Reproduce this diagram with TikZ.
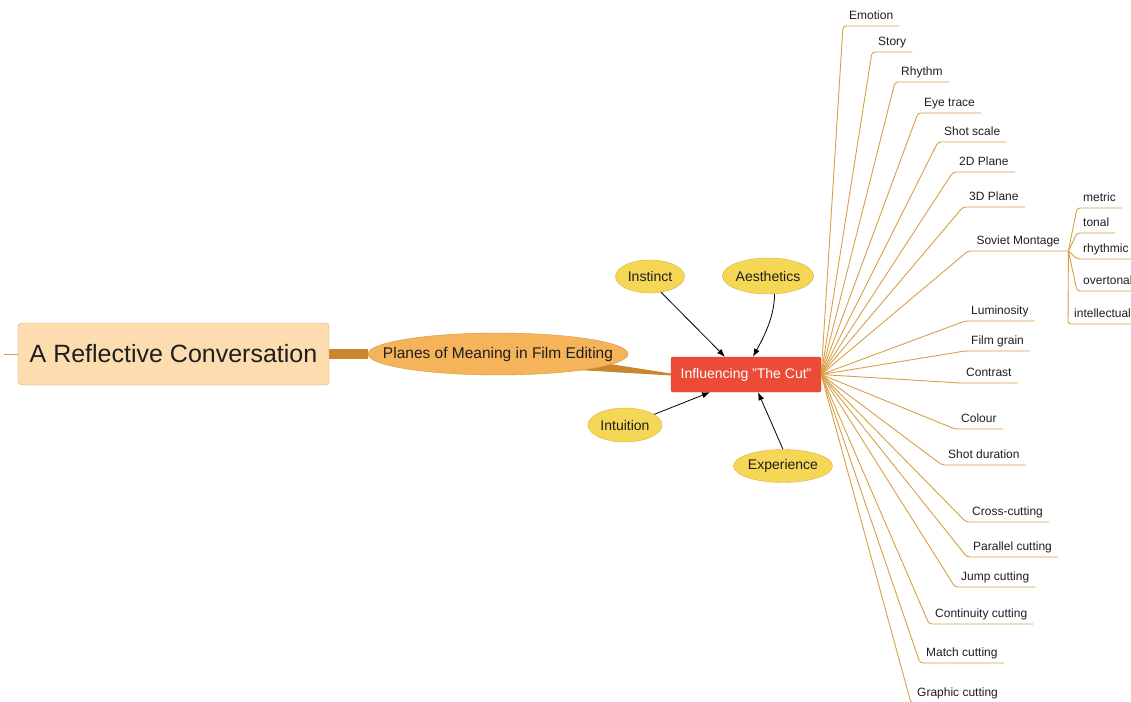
\documentclass[tikz,border=0pt]{standalone}
\usepackage{fontspec}
\setmainfont{Liberation Sans}
\usepackage{tikz}
\usetikzlibrary{arrows.meta,shapes.geometric,calc,backgrounds}
\usepackage{xcolor}
\definecolor{cRoot}{RGB}{253,221,176}
\definecolor{cRootLine}{RGB}{205,160,95}
\definecolor{cPlanes}{RGB}{245,180,90}
\definecolor{cPlanesLine}{RGB}{215,150,60}
\definecolor{cCut}{RGB}{236,75,55}
\definecolor{cCutLine}{RGB}{215,60,45}
\definecolor{cIdea}{RGB}{245,215,85}
\definecolor{cIdeaLine}{RGB}{215,180,60}
\definecolor{cTrunk}{RGB}{200,135,45}
\definecolor{cBranch}{RGB}{215,160,70}
\definecolor{cText}{RGB}{30,30,30}

\tikzset{
  root/.style={draw=cRootLine, fill=cRoot, rounded corners=4pt, minimum width=311pt,
    minimum height=62pt, text=cText, font=\fontsize{25}{30}\selectfont},
  planes/.style={ellipse, draw=cPlanesLine, fill=cPlanes, inner xsep=-24pt, inner ysep=0pt,
    minimum width=260pt, minimum height=42pt, text=cText, font=\fontsize{15.5}{18}\selectfont},
  cutbox/.style={draw=cCutLine, fill=cCut, rounded corners=2pt, minimum width=150pt,
    minimum height=35pt, text=white, font=\fontsize{14}{16}\selectfont},
  idea/.style={ellipse, draw=cIdeaLine, fill=cIdea, inner sep=0pt, text=cText,
    font=\fontsize{14}{16}\selectfont},
  leaf/.style={anchor=south west, inner xsep=6pt, inner ysep=6pt, text height=8.8pt,
    text depth=0pt, text=cText, font=\fontsize{12}{14}\selectfont},
  branch/.style={cBranch, line width=0.9pt, rounded corners=3pt},
  link/.style={-{Latex[length=8pt,width=6pt]}, line width=0.8pt, black},
}

\begin{document}
\begin{tikzpicture}[x=1pt, y=-1pt]
  \clip (0,0) rectangle (1131,701);
  % Main topics
  \node[root] (root) at (173.5,354) {A Reflective Conversation};
  \node[planes] (planes) at (498,354) {Planes of Meaning in Film Editing};
  \node[cutbox] (cut) at (746,374.5) {Influencing "The Cut"};
  \coordinate (stub) at (4,354);
  % Influences
  \node[idea, minimum width=69pt, minimum height=33pt] (instinct) at (650,276.5) {Instinct};
  \node[idea, minimum width=90pt, minimum height=36pt] (aesthetics) at (768,276) {Aesthetics};
  \node[idea, minimum width=74pt, minimum height=34pt] (intuition) at (625,425) {Intuition};
  \node[idea, minimum width=97pt, minimum height=33pt] (experience) at (783,466) {Experience};
  % Planes of meaning
  \node[leaf] (emotion) at (843,26) {Emotion};
  \node[leaf] (story) at (872,52) {Story};
  \node[leaf] (rhythm) at (895,82) {Rhythm};
  \node[leaf] (eyetrace) at (918,113) {Eye trace};
  \node[leaf] (shotscale) at (938,142) {Shot scale};
  \node[leaf] (plane2d) at (953,172) {2D Plane};
  \node[leaf] (plane3d) at (963,207) {3D Plane};
  \node[leaf, minimum width=100pt] (soviet) at (968,251) {Soviet Montage};
  \node[leaf] (luminosity) at (965,321) {Luminosity};
  \node[leaf] (filmgrain) at (965,351) {Film grain};
  \node[leaf] (contrast) at (960,383) {Contrast};
  \node[leaf] (colour) at (955,429) {Colour};
  \node[leaf] (shotdur) at (942,465) {Shot duration};
  \node[leaf] (crosscut) at (966,522) {Cross-cutting};
  \node[leaf] (parallel) at (967,557) {Parallel cutting};
  \node[leaf] (jumpcut) at (955,587) {Jump cutting};
  \node[leaf] (continuity) at (929,624) {Continuity cutting};
  \node[leaf] (matchcut) at (920,663) {Match cutting};
  \node[leaf] (graphic) at (911,703) {Graphic cutting};
  % Montage types
  \node[leaf] (metric) at (1077,208) {metric};
  \node[leaf] (tonal) at (1077,233) {tonal};
  \node[leaf] (rhythmic) at (1077,259) {rhythmic};
  \node[leaf] (overtonal) at (1077,291) {overtonal};
  \node[leaf] (intellectual) at (1068,324) {intellectual};

  % Trunk connectors
  \begin{scope}[on background layer]
    \draw[cRootLine, line width=0.8pt] (stub) -- (root.west);
    \draw[cTrunk, line width=10pt] (root.east) -- (planes.west);
    \fill[cTrunk] ($(planes.center)+(80,5)$) -- ($(planes.center)+(80,16)$)
      -- ([yshift=-1pt]cut.west) -- ([yshift=1pt]cut.west) -- cycle;
  \end{scope}

  % Arrows into the cut
  \draw[link] (instinct.-55) -- ([xshift=-21pt]cut.north);
  \draw[link] (aesthetics.-70) .. controls +(0,25) and +(8,-15) .. ([xshift=7pt]cut.north);
  \draw[link] (intuition.20) -- ([xshift=-36pt]cut.south);
  \draw[link] (experience.north) -- ([xshift=12pt]cut.south);

  % Fan of branches
  \draw[branch] (cut.east) -- (emotion.south west) -- (emotion.south east);
  \draw[branch] (cut.east) -- (story.south west) -- (story.south east);
  \draw[branch] (cut.east) -- (rhythm.south west) -- (rhythm.south east);
  \draw[branch] (cut.east) -- (eyetrace.south west) -- (eyetrace.south east);
  \draw[branch] (cut.east) -- (shotscale.south west) -- (shotscale.south east);
  \draw[branch] (cut.east) -- (plane2d.south west) -- (plane2d.south east);
  \draw[branch] (cut.east) -- (plane3d.south west) -- (plane3d.south east);
  \draw[branch] (cut.east) -- (soviet.south west) -- (soviet.south east);
  \draw[branch] (cut.east) -- (luminosity.south west) -- (luminosity.south east);
  \draw[branch] (cut.east) -- (filmgrain.south west) -- (filmgrain.south east);
  \draw[branch] (cut.east) -- (contrast.south west) -- (contrast.south east);
  \draw[branch] (cut.east) -- (colour.south west) -- (colour.south east);
  \draw[branch] (cut.east) -- (shotdur.south west) -- (shotdur.south east);
  \draw[branch] (cut.east) -- (crosscut.south west) -- (crosscut.south east);
  \draw[branch] (cut.east) -- (parallel.south west) -- (parallel.south east);
  \draw[branch] (cut.east) -- (jumpcut.south west) -- (jumpcut.south east);
  \draw[branch] (cut.east) -- (continuity.south west) -- (continuity.south east);
  \draw[branch] (cut.east) -- (matchcut.south west) -- (matchcut.south east);
  \draw[branch] (cut.east) -- (graphic.south west) -- (graphic.south east);

  % Soviet montage sub-branches
  \draw[branch] (soviet.south east) -- (metric.south west) -- (metric.south east);
  \draw[branch] (soviet.south east) -- (tonal.south west) -- (tonal.south east);
  \draw[branch] (soviet.south east) -- (rhythmic.south west) -- (rhythmic.south east);
  \draw[branch] (soviet.south east) -- (overtonal.south west) -- (overtonal.south east);
  \draw[branch] (soviet.south east) -- (intellectual.south west) -- (intellectual.south east);
\end{tikzpicture}
\end{document}
